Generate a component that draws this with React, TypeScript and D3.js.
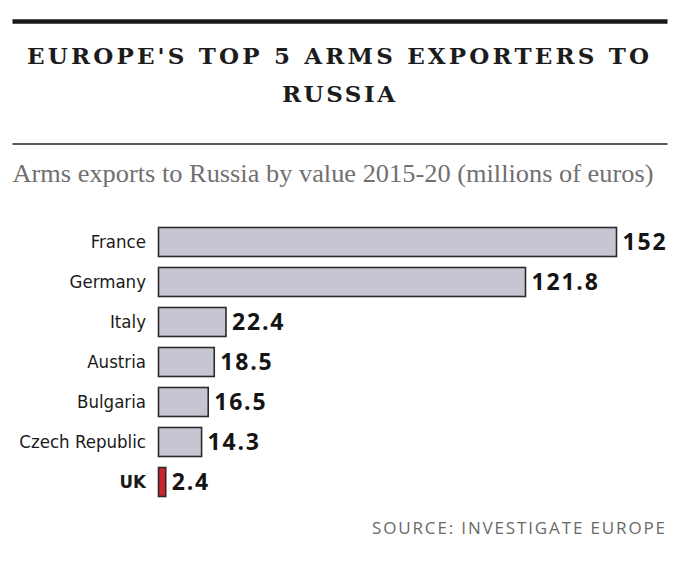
import React from "react";
import * as d3 from "d3";

const countries = ["France", "Germany", "Italy", "Austria", "Bulgaria", "Czech Republic", "UK"];
const values = [152, 121.8, 22.4, 18.5, 16.5, 14.3, 2.4];
const valueLabels = ["152", "121.8", "22.4", "18.5", "16.5", "14.3", "2.4"];
const highlighted = ["UK"];

const titleLines = ["EUROPE'S TOP 5 ARMS EXPORTERS TO", "RUSSIA"];
const subtitle = "Arms exports to Russia by value 2015-20 (millions of euros)";
const source = "SOURCE: INVESTIGATE EUROPE";

const W = 680;
const H = 562;

export default function App() {
  const x = d3.scaleLinear().domain([0, d3.max(values) as number]).range([158.5, 616.5]);
  const y = d3
    .scaleBand<string>()
    .domain(countries)
    .range([222, 502])
    .paddingInner(0.275)
    .paddingOuter(0.1375);

  const serif = "'DejaVu Serif', 'Liberation Serif', serif";
  const serifNarrow = "'Liberation Serif', 'DejaVu Serif', serif";
  const sansNarrow = "'Liberation Sans Narrow', 'DejaVu Sans Condensed', 'Open Sans', sans-serif";
  const sans = "'Open Sans', 'Noto Sans', sans-serif";

  return (
    <svg
      width={W}
      height={H}
      viewBox={`0 0 ${W} ${H}`}
      style={{ position: "absolute", left: 0, top: 0, background: "#fff" }}
    >
      <rect x={0} y={0} width={W} height={H} fill="#fff" />
      <line x1={12.5} x2={667.5} y1={21.5} y2={21.5} stroke="#1a1a1a" strokeWidth={4.5} />
      <text
        x={338}
        y={63.5}
        textAnchor="middle"
        fontFamily={serif}
        fontWeight="bold"
        fontSize={23}
        fill="#1c1c1c"
        textLength={622}
        lengthAdjust="spacing"
      >
        {titleLines[0]}
      </text>
      <text
        x={338.5}
        y={101.5}
        textAnchor="middle"
        fontFamily={serif}
        fontWeight="bold"
        fontSize={23}
        fill="#1c1c1c"
        textLength={113}
        lengthAdjust="spacing"
      >
        {titleLines[1]}
      </text>
      <line x1={12.5} x2={667.5} y1={144} y2={144} stroke="#222" strokeWidth={1.6} />
      <text
        x={12.5}
        y={181.5}
        fontFamily={serifNarrow}
        fontSize={24.5}
        fill="#707070"
        textLength={641}
        lengthAdjust="spacingAndGlyphs"
      >
        {subtitle}
      </text>

      {countries.map((c, i) => {
        const isHi = highlighted.includes(c);
        const yy = y(c) as number;
        const bw = y.bandwidth();
        const xe = x(values[i]);
        return (
          <g key={c}>
            <rect
              x={x(0)}
              y={yy}
              width={xe - x(0)}
              height={bw}
              fill={isHi ? "#c9262d" : "#c5c6d1"}
              stroke="#2b2b2b"
              strokeWidth={1.6}
            />
            <text
              x={146}
              y={yy + bw / 2}
              dy="0.35em"
              textAnchor="end"
              fontFamily={sansNarrow}
              fontSize={18.5}
              fontWeight={isHi ? "bold" : "normal"}
              fill="#1a1a1a"
            >
              {c}
            </text>
            <text
              x={xe + 6}
              y={yy + bw / 2}
              dy="0.35em"
              fontFamily={sans}
              fontWeight="bold"
              fontSize={23}
              letterSpacing={1.8}
              fill="#141414"
            >
              {valueLabels[i]}
            </text>
          </g>
        );
      })}

      <text
        x={372}
        y={533.5}
        fontFamily={sans}
        fontSize={17}
        fill="#6a6a6a"
        textLength={293}
        lengthAdjust="spacing"
      >
        {source}
      </text>
    </svg>
  );
}
